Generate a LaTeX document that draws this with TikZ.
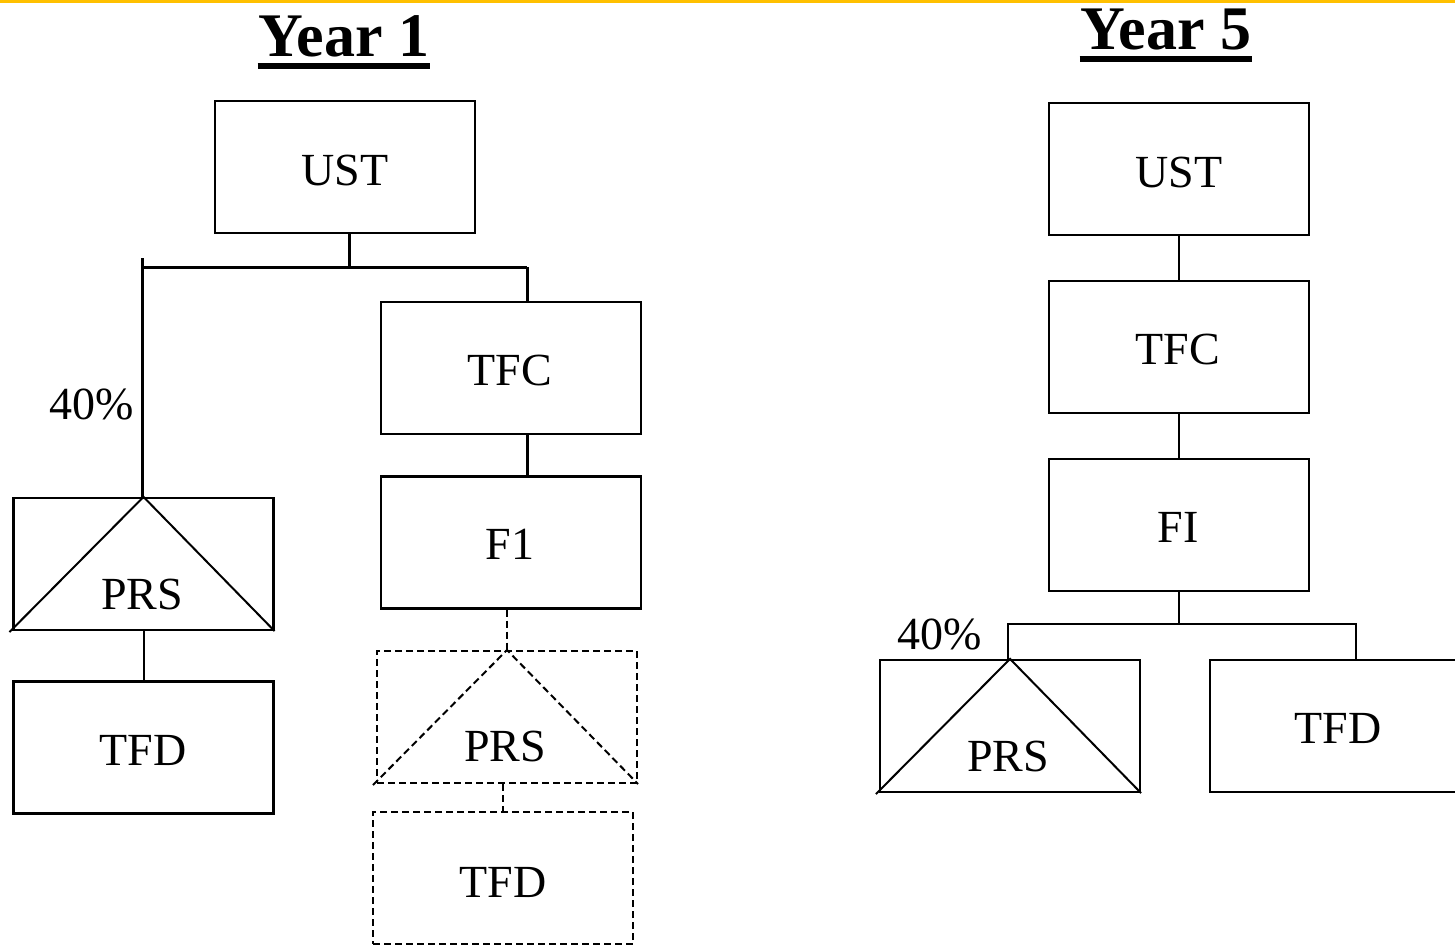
\documentclass[tikz,border=0pt]{standalone}
\usepackage{fontspec}
\setmainfont{Liberation Serif}
\usetikzlibrary{calc}
\definecolor{topbar}{HTML}{FFC000}
\tikzset{
  box/.style={draw, line width=2.2pt, minimum width=260pt, minimum height=132pt, inner sep=0pt},
  dbox/.style={box, line width=2pt, dash pattern=on 7pt off 4pt},
  lbl/.style={inner sep=0pt, font=\fontsize{46}{50}\selectfont},
  ttl/.style={inner sep=0pt, anchor=base, font=\fontsize{62}{68}\selectfont\bfseries},
  thick conn/.style={line width=3pt},
  conn/.style={line width=2pt},
  dconn/.style={line width=2pt, dash pattern=on 7pt off 4pt},
  uline/.style={line width=6pt}
}
\begin{document}
\begin{tikzpicture}[x=1pt,y=-1pt]
\useasboundingbox (0,0) rectangle (1455,945);
\clip (0,0) rectangle (1455,945);
\fill[topbar] (0,0) rectangle (1455,3);

% titles
\node[ttl] (y1) at (344,56) {Year 1};
\draw[uline] ($(y1.base west)+(-1,10)$) -- ($(y1.base east)+(1,10)$);
\node[ttl] (y5) at (1166,49) {Year 5};
\draw[uline] ($(y5.base west)+(-1,10)$) -- ($(y5.base east)+(1,10)$);

% ---------- Year 1 ----------
\node[box] (ust1) at (345,167) {};
\node[lbl] (ust1t) at (345,170) {UST};
\node[box] (tfc1) at (511,368) {};
\node[lbl] (tfc1t) at (510,370) {TFC};
\node[box] (f1) at (511,542.5) {};
\node[lbl] (f1t) at (510,544) {F1};
\node[box] (prs1) at (143.5,564) {};
\node[lbl] (prs1t) at (142,594) {PRS};
\node[box] (tfd1) at (143.5,747.5) {};
\node[lbl] (tfd1t) at (143,750) {TFD};
\node[dbox] (prs1d) at (507,717) {};
\node[lbl] (prs1dt) at (505,746) {PRS};
\node[dbox] (tfd1d) at (503,878) {};
\node[lbl] (tfd1dt) at (503,882) {TFD};
\node[lbl] (pc1) at (92,404) {40\%};

\draw[conn] ($(prs1.south west)+(-3,1)$) -- (prs1.north) -- (prs1.south east);
\draw[dconn] ($(prs1d.south west)+(-3,1)$) -- (prs1d.north) -- (prs1d.south east);

\coordinate (b1L) at (142,267);
\coordinate (b1R) at (527,267);
\coordinate (b1T) at (142,258);
\coordinate (b1M) at (349,267);
\draw[thick conn] (ust1.south -| b1M) -- (b1M);
\draw[thick conn] (b1L) -- (b1R);
\draw[thick conn] (b1T) -- (b1T |- prs1.north);
\draw[thick conn] (b1R) -- (b1R |- tfc1.north);
\draw[thick conn] (tfc1.south -| b1R) -- (f1.north -| b1R);
\draw[dconn] (f1.south -| prs1d.north) -- (prs1d.north);
\draw[dconn] (prs1d.south -| tfd1d.north) -- (tfd1d.north);
\draw[conn] (prs1.south) -- (tfd1.north);

% ---------- Year 5 ----------
\node[box] (ust5) at (1179,169) {};
\node[lbl] (ust5t) at (1179,172) {UST};
\node[box] (tfc5) at (1179,347) {};
\node[lbl] (tfc5t) at (1178,349) {TFC};
\node[box] (fi5) at (1179,525) {};
\node[lbl] (fi5t) at (1178,527) {FI};
\node[box] (prs5) at (1010,726) {};
\node[lbl] (prs5t) at (1008,756) {PRS};
\node[box] (tfd5) at (1340,726) {};
\node[lbl] (tfd5t) at (1338,728) {TFD};
\node[lbl] (pc5) at (940,634) {40\%};

\draw[conn] ($(prs5.south west)+(-3,1)$) -- (prs5.north) -- (prs5.south east);

\draw[conn] (ust5.south) -- (tfc5.north);
\draw[conn] (tfc5.south) -- (fi5.north);
\coordinate (b5L) at (1008,624);
\coordinate (b5R) at (1356,624);
\draw[conn] (fi5.south) -- (fi5.south |- b5L);
\draw[conn] (prs5.north -| b5L) -- (b5L) -- (b5R) -- (b5R |- tfd5.north);
\end{tikzpicture}
\end{document}
